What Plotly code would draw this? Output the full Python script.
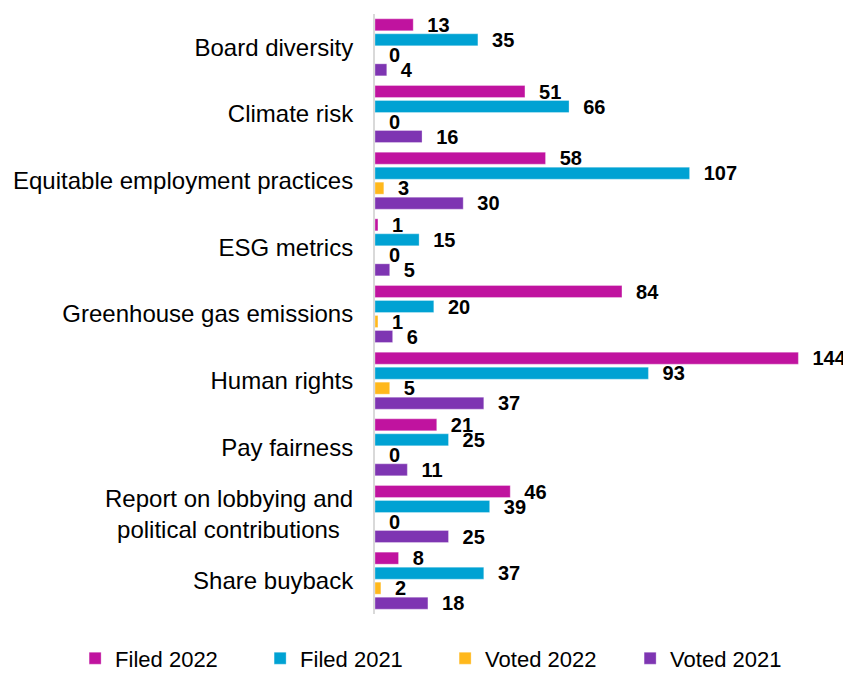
import plotly.graph_objects as go

categories = [
    "Board diversity",
    "Climate risk",
    "Equitable employment practices",
    "ESG metrics",
    "Greenhouse gas emissions",
    "Human rights",
    "Pay fairness",
    "Report on lobbying and<br>political contributions\u00a0\u00a0",
    "Share buyback",
]
filed_2022 = [13, 51, 58, 1, 84, 144, 21, 46, 8]
filed_2021 = [35, 66, 107, 15, 20, 93, 25, 39, 37]
voted_2022 = [0, 0, 3, 0, 1, 5, 0, 0, 2]
voted_2021 = [4, 16, 30, 5, 6, 37, 11, 25, 18]

series = [
    ("Filed 2022", filed_2022, "#C0139F"),
    ("Filed 2021", filed_2021, "#00A2D3"),
    ("Voted 2022", voted_2022, "#FFB81C"),
    ("Voted 2021", voted_2021, "#7E35B2"),
]

fig = go.Figure()
for name, vals, color in series:
    fig.add_trace(go.Bar(
        name=name,
        y=categories,
        x=vals,
        orientation="h",
        marker=dict(color=color, line=dict(color="rgba(255,255,255,0.6)", width=0.5)),
        text=vals,
        texttemplate="\u00a0\u00a0%{x}",
        textposition="outside",
        constraintext="none",
        cliponaxis=False,
        textfont=dict(family="Liberation Sans, Arial", size=20, color="#000000", weight="bold"),
    ))

fig.update_layout(
    width=843,
    height=663,
    barmode="group",
    bargap=0.1,
    bargroupgap=0.2,
    plot_bgcolor="white",
    paper_bgcolor="white",
    font=dict(family="Liberation Sans, Arial", color="#000000"),
    margin=dict(l=367, r=35, t=6, b=57, autoexpand=False),
    showlegend=True,
    legend=dict(
        orientation="h",
        x=-0.68,
        xanchor="left",
        y=-0.074,
        yanchor="middle",
        font=dict(size=22, color="#000000"),
        entrywidth=140,
        entrywidthmode="pixels",
        itemwidth=30,
        traceorder="normal",
    ),
    xaxis=dict(
        range=[0, 150],
        showgrid=False,
        zeroline=False,
        showticklabels=False,
        showline=False,
        fixedrange=True,
    ),
    yaxis=dict(
        autorange="reversed",
        showgrid=False,
        zeroline=False,
        showline=True,
        linecolor="#D9D9D9",
        linewidth=2,
        ticks="",
        ticklabelstandoff=15,
        tickfont=dict(size=24, color="#000000"),
    ),
)

fig.write_html("out.html")
